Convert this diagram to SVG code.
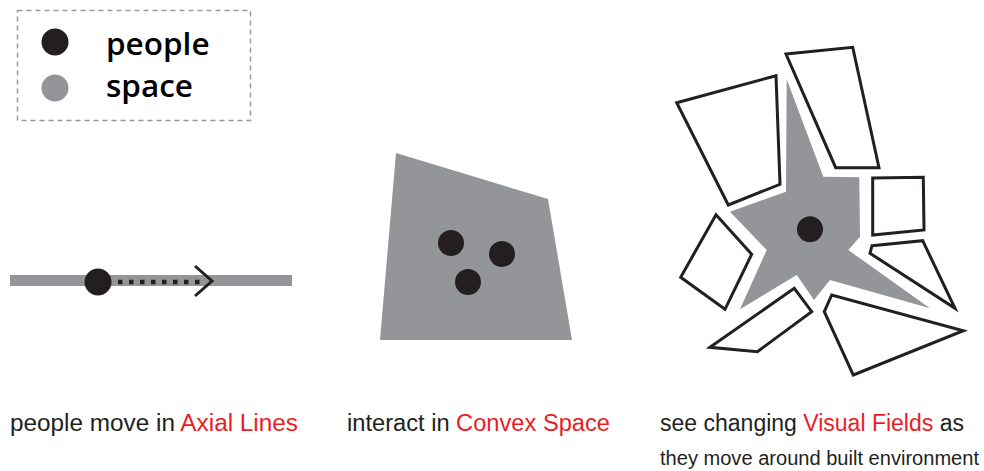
<svg xmlns="http://www.w3.org/2000/svg" width="984" height="471" viewBox="0 0 984 471">
<style>
.space{fill:#939598}
.ppl{fill:#231f20}
.bld{fill:#fff;stroke:#231f20;stroke-width:3;stroke-linejoin:miter}
.lbl{font-family:"Liberation Sans",Arial,sans-serif;font-size:23px;fill:#231f20}
.red{fill:#ed1c24}
.leg{font-family:"Open Sans","Liberation Sans",sans-serif;font-weight:600;font-size:31.5px;fill:#000}
</style>
<rect width="984" height="471" fill="#fff"/>
<g id="legend">
<rect x="17.5" y="10.5" width="233" height="110" fill="none" stroke="#999" stroke-width="1.5" stroke-dasharray="5 4"/>
<circle class="ppl" cx="55" cy="42" r="13.5"/>
<circle class="space" cx="55" cy="88" r="13.5"/>
<text class="leg" x="106" y="55">people</text>
<text class="leg" x="106" y="97">space</text>
</g>
<g id="axial">
<rect class="space" x="10" y="275" width="282" height="11"/>
<line x1="118" y1="282" x2="204" y2="282" stroke="#231f20" stroke-width="4.5" stroke-dasharray="4.5 6.5"/>
<polyline points="195,266 212,281 195,296" fill="none" stroke="#231f20" stroke-width="3"/>
<circle class="ppl" cx="98" cy="282" r="13.5"/>
</g>
<g id="convex">
<polygon class="space" points="396,153 548,199 572,340 380,340"/>
<circle class="ppl" cx="451" cy="243" r="13"/>
<circle class="ppl" cx="502" cy="254" r="13"/>
<circle class="ppl" cx="468" cy="282" r="13"/>
</g>
<g id="visual">
<polygon class="space" points="786.7,79.3 823.3,176.7 859.3,177.3 860,236.7 848.3,250 930,308.3 830,280 814,300 796.7,275 740,309.3 766.7,250 730,211.7 786,191.7"/>
<polygon class="bld" points="676.7,102.7 776,75.7 780,184.3 728.3,205"/>
<polygon class="bld" points="786,54 852.7,47.3 879,167.7 835.7,167.7"/>
<polygon class="bld" points="872.7,178 923.3,177.3 924,230 872.7,235"/>
<polygon class="bld" points="872,245.7 922.7,240.7 955,308.3 870,253.3"/>
<polygon class="bld" points="824.3,311.7 831.7,295 963.3,330.7 853.3,375"/>
<polygon class="bld" points="710,347.3 794.3,288.3 811.7,311.7 757.3,351.7"/>
<polygon class="bld" points="716,214.7 751.7,254.3 725,309.3 680.7,277.3"/>
<circle class="ppl" cx="810" cy="229.3" r="13"/>
</g>
<g id="captions">
<text class="lbl" x="10" y="431" textLength="288" lengthAdjust="spacingAndGlyphs">people move in <tspan class="red">Axial Lines</tspan></text>
<text class="lbl" x="347" y="431" textLength="263" lengthAdjust="spacingAndGlyphs">interact in <tspan class="red">Convex Space</tspan></text>
<text class="lbl" x="660" y="431" textLength="304" lengthAdjust="spacingAndGlyphs">see changing <tspan class="red">Visual Fields</tspan> as</text>
<text class="lbl" x="660" y="465" style="font-size:20px" textLength="319" lengthAdjust="spacingAndGlyphs">they move around built environment</text>
</g>
</svg>
